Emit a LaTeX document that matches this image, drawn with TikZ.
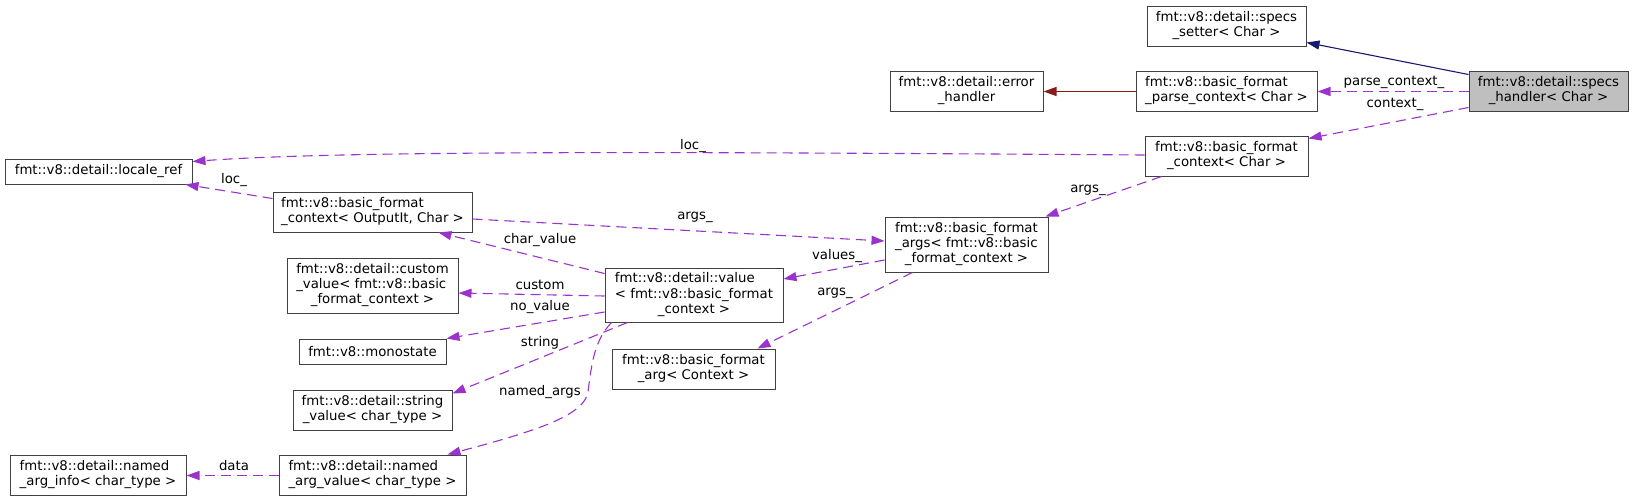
\documentclass[tikz,border=0pt]{standalone}
\usepackage{fontspec}
\setmainfont{DejaVu Sans}
\usepackage{tikz}
\usetikzlibrary{positioning,calc}
\usetikzlibrary{arrows.meta}
\definecolor{DoxPurple}{HTML}{9A32CD}
\definecolor{DoxBlue}{HTML}{191970}
\definecolor{DoxRed}{HTML}{8B1A1A}
\definecolor{BoxLine}{HTML}{404040}
\definecolor{BoxGray}{HTML}{BFBFBF}
% all lines left-aligned but the last, which is centred
\newcommand{\cname}[2]{\begin{tabular}{@{}l@{}}#1\\\multicolumn{1}{@{}c@{}}{#2}\end{tabular}}
\tikzset{
	cls/.style={draw=BoxLine,fill=white,line width=1pt,inner sep=0pt,
		font=\fontsize{13.3}{15.3}\selectfont},
	cur/.style={cls,fill=BoxGray},
	lbl/.style={inner sep=0pt,font=\fontsize{13.3}{15.3}\selectfont},
	tip/.style={-{Triangle[length=13pt,width=9pt]}},
	use/.style={tip,draw=DoxPurple,line width=1.1pt,dash pattern=on 10pt off 6pt},
	inh/.style={tip,draw=DoxBlue,line width=1.1pt},
	priv/.style={tip,draw=DoxRed,line width=1.1pt},
}
\begin{document}
\begin{tikzpicture}[x=1pt,y=-1pt]
	\useasboundingbox (0,0) rectangle (1633,501);
	% classes
	\node[cls,minimum width=159pt,minimum height=40pt] (setter) at (1226.5,26) {\cname{fmt::v8::detail::specs}{\_setter< Char >}};
	\node[cur,minimum width=159pt,minimum height=40pt] (handler) at (1548.5,91) {\cname{fmt::v8::detail::specs}{\_handler< Char >}};
	\node[cls,minimum width=153pt,minimum height=40pt] (error) at (966.5,91) {\cname{fmt::v8::detail::error}{\_handler}};
	\node[cls,minimum width=181pt,minimum height=40pt] (parse) at (1226.5,91) {\cname{fmt::v8::basic\_format}{\_parse\_context< Char >}};
	\node[cls,minimum width=163pt,minimum height=40pt] (ctxchar) at (1226.5,156) {\cname{fmt::v8::basic\_format}{\_context< Char >}};
	\node[cls,minimum width=187pt,minimum height=25pt] (locref) at (98.5,171.5) {fmt::v8::detail::locale\_ref};
	\node[cls,minimum width=199pt,minimum height=40pt] (ctxout) at (372.5,212) {\cname{fmt::v8::basic\_format}{\_context< OutputIt, Char >}};
	\node[cls,minimum width=163pt,minimum height=55pt] (fargs) at (966.5,244.5) {\cname{fmt::v8::basic\_format\\\_args< fmt::v8::basic}{\_format\_context >}};
	\node[cls,minimum width=171pt,minimum height=55pt] (custom) at (372.5,285.5) {\cname{fmt::v8::detail::custom\\\_value< fmt::v8::basic}{\_format\_context >}};
	\node[cls,minimum width=178pt,minimum height=54pt] (value) at (694,295) {\cname{fmt::v8::detail::value\\< fmt::v8::basic\_format}{\_context >}};
	\node[cls,minimum width=147pt,minimum height=25pt] (mono) at (372.5,351.5) {fmt::v8::monostate};
	\node[cls,minimum width=163pt,minimum height=40pt] (farg) at (693.5,369) {\cname{fmt::v8::basic\_format}{\_arg< Context >}};
	\node[cls,minimum width=159pt,minimum height=40pt] (strval) at (372.5,410) {\cname{fmt::v8::detail::string}{\_value< char\_type >}};
	\node[cls,minimum width=187pt,minimum height=40pt] (namedval) at (372.5,475) {\cname{fmt::v8::detail::named}{\_arg\_value< char\_type >}};
	\node[cls,minimum width=176pt,minimum height=40pt] (namedinfo) at (98,475) {\cname{fmt::v8::detail::named}{\_arg\_info< char\_type >}};
	% inheritance and usage
	\draw[inh] ($(handler.north west)+(0,4)$) -- ($(setter.south east)+(0,-4)$);
	\draw[priv] ($(parse.west)+(0,0.5)$) -- ($(error.east)+(0,0.5)$);
	\draw[use] ($(handler.west)+(0,0.5)$) -- ($(parse.east)+(0,0.5)$);
	\draw[use] ($(handler.south west)+(0,-4)$) -- ($(ctxchar.north east)+(0,3)$);
	\draw[use] ($(ctxchar.west)+(0,-1)$) .. controls (700,152) and (350,150) .. ($(locref.east)+(0,-10)$);
	\draw[use] ($(ctxchar.south west)+(17,0)$) -- ($(fargs.north east)+(-3,0)$);
	\draw[use] ($(ctxout.north west)+(0,7)$) -- ($(locref.south east)+(-7,0)$);
	\draw[use] ($(ctxout.east)+(0,7)$) -- ($(fargs.west)+(0,-3.5)$);
	\draw[use] ($(fargs.west)+(0,15.5)$) -- ($(value.east)+(0,-16)$);
	\draw[use] ($(fargs.south west)+(28,0)$) -- ($(farg.north east)+(-18,0)$);
	\draw[use] ($(value.north west)+(0,6)$) -- ($(ctxout.south east)+(-34,0)$);
	\draw[use] ($(value.west)+(0,1)$) -- ($(custom.east)+(0,7.5)$);
	\draw[use] ($(value.west)+(0,17)$) -- (mono.north east);
	\draw[use] ($(value.south west)+(23,0)$) -- ($(strval.north east)+(0,4)$);
	\draw[use] ($(value.south west)+(7,0)$) .. controls (595,340) and (592,360) .. (588,392)
		.. controls (584,415) and (540,430) .. ($(namedval.north east)+(-19,0)$);
	\draw[use] ($(namedval.west)+(0,0.5)$) -- ($(namedinfo.east)+(0,0.5)$);
	% edge labels
	\node[lbl] (lparse) at (1394,82) {parse\_context\_};
	\node[lbl] (lctx) at (1395,104) {context\_};
	\node[lbl] (lloc) at (693,146) {loc\_};
	\node[lbl] (largs) at (1088,190) {args\_};
	\node[lbl] (lloc2) at (234,180) {loc\_};
	\node[lbl] (largs2) at (695,217) {args\_};
	\node[lbl] (lvalues) at (837,256) {values\_};
	\node[lbl] (largs3) at (835,293) {args\_};
	\node[lbl] (lchar) at (540,240) {char\_value};
	\node[lbl] (lcustom) at (540,285) {custom};
	\node[lbl] (lnovalue) at (540,307) {no\_value};
	\node[lbl] (lstring) at (540,343) {string};
	\node[lbl] (lnamed) at (540,392) {named\_args};
	\node[lbl] (ldata) at (234,466) {data};
\end{tikzpicture}
\end{document}
